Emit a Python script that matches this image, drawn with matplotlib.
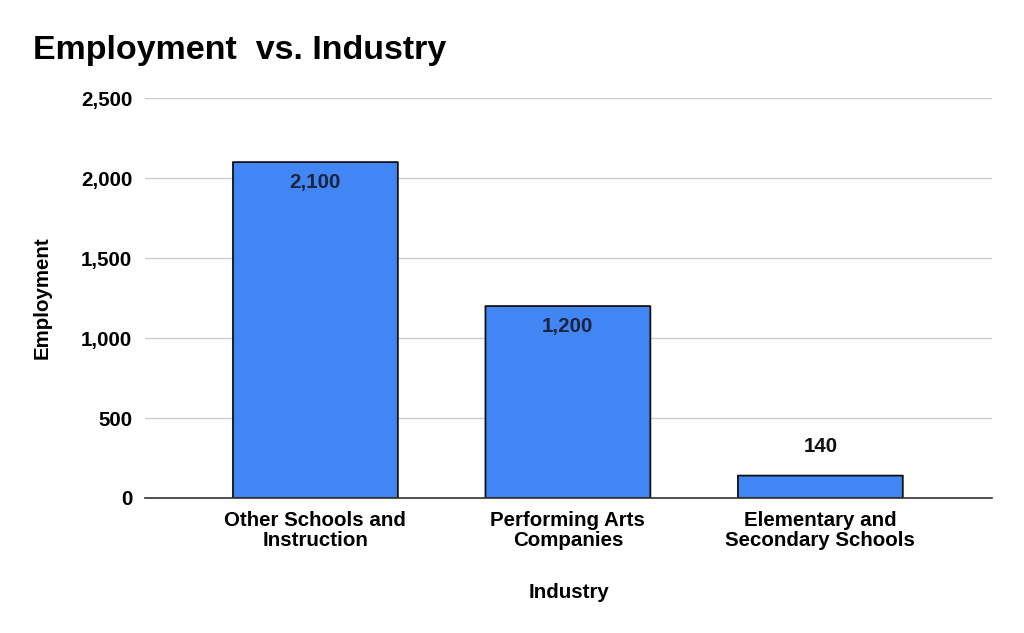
import matplotlib.pyplot as plt
from matplotlib.patches import FancyBboxPatch

plt.rcParams['font.family'] = ['Liberation Sans', 'DejaVu Sans']

industries = ['Other Schools and\nInstruction', 'Performing Arts\nCompanies',
              'Elementary and\nSecondary Schools']
employment = [2100, 1200, 140]
label_text = ['2,100', '1,200', '140']
yticks = [0, 500, 1000, 1500, 2000, 2500]

fs = 14.8

fig = plt.figure(figsize=(10.24, 6.33), dpi=100)
ax = fig.add_axes([0.1416, 0.2133, 0.8272, 0.6317])

bars = ax.bar(range(len(industries)), employment, width=0.653, color='#4285F4')

# swap plain rectangles for rounded ones
for b in bars:
    x, y = b.get_x(), b.get_y()
    w, h = b.get_width(), b.get_height()
    b.set_visible(False)
    p = FancyBboxPatch((x, y), w, h, boxstyle='round,pad=0,rounding_size=0.02',
                       mutation_aspect=40, facecolor='#4285F4',
                       edgecolor='#111111', linewidth=1.3, zorder=3)
    ax.add_patch(p)

for i, v in enumerate(employment):
    if v > 500:
        ax.annotate(label_text[i], (i, v), xytext=(0, -14.5), textcoords='offset points',
                    ha='center', va='center', fontsize=fs, fontweight='bold',
                    color='#1c2540', zorder=4)
    else:
        ax.annotate(label_text[i], (i, v), xytext=(0, 21), textcoords='offset points',
                    ha='center', va='center', fontsize=fs, fontweight='bold',
                    color='#111111', zorder=4)

ax.set_xlim(-0.675, 2.68)
ax.set_ylim(0, 2500)
ax.set_yticks(yticks)
ax.set_yticklabels([f'{t:,}' for t in yticks], fontsize=fs, fontweight='bold')
ax.set_xticks(range(len(industries)))
ax.set_xticklabels(industries, fontsize=fs, fontweight='bold', linespacing=1.05)
ax.tick_params(axis='x', length=0, pad=9.5)
ax.tick_params(axis='y', length=0, pad=9)

ax.grid(axis='y', color='#cccccc', linewidth=1)
ax.set_axisbelow(True)
for s in ['top', 'right', 'left']:
    ax.spines[s].set_visible(False)
ax.spines['bottom'].set_color('#333333')
ax.spines['bottom'].set_linewidth(1.2)
ax.spines['bottom'].set_zorder(5)

ax.set_xlabel('Industry', fontsize=fs, fontweight='bold', labelpad=24)
ax.set_ylabel('Employment', fontsize=fs, fontweight='bold', labelpad=21)

fig.text(0.032, 0.921, 'Employment  vs. Industry', fontsize=24.5, fontweight='bold',
         ha='left', va='center')

fig.savefig('out.png', dpi=100)
